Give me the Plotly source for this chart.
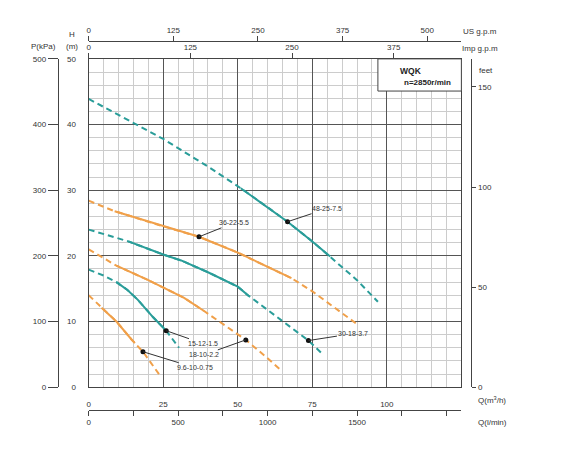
import plotly.graph_objects as go

W, H = 570, 449

# flow in m3/h, head in m; solid part between solid_from and solid_to
curve_names = ['48-25-7.5', '36-22-5.5', '30-18-3.7', '18-10-2.2', '15-12-1.5', '9.6-10-0.75']
curve_colors = ['teal', 'orange', 'teal', 'orange', 'teal', 'orange']

q_48 = [0, 15, 25, 40, 51, 60, 66.7, 75, 81, 90, 97]
h_48 = [43.9, 40.2, 37.8, 33.6, 30.3, 27.4, 25.2, 22.2, 19.9, 16.3, 13.0]

q_36 = [0, 8.7, 25, 37, 50, 60, 68, 75, 85, 89.7]
h_36 = [28.4, 26.8, 24.5, 22.9, 20.5, 18.3, 16.6, 14.6, 11.3, 9.7]

q_30 = [0, 13.3, 25, 31, 40, 50, 53.7, 60, 67, 73.7, 78.3]
h_30 = [24.0, 22.2, 20.2, 19.3, 17.5, 15.3, 13.9, 11.8, 9.4, 7.1, 5.1]

q_18 = [0, 9.3, 20, 32, 38.7, 45, 52.7, 60, 64.7]
h_18 = [21.0, 18.5, 16.3, 13.6, 11.6, 9.6, 7.2, 4.4, 2.5]

q_15 = [0, 5, 9.3, 13, 16.5, 21.7, 26, 30.3]
h_15 = [17.9, 17.0, 16.0, 14.8, 13.3, 10.6, 8.6, 6.0]

q_96 = [0, 4.3, 9.3, 14.3, 18.2, 23.7]
h_96 = [14.0, 12.1, 10.0, 7.3, 5.4, 1.9]

curve_q = [q_48, q_36, q_30, q_18, q_15, q_96]
curve_h = [h_48, h_36, h_30, h_18, h_15, h_96]
solid_from = [51, 8.7, 13.3, 9.3, 9.3, 4.3]
solid_to = [81, 68, 53.7, 38.7, 26, 15.5]

# label dot on each curve (Q, H) and text offset in px
label_q = [66.7, 37, 73.7, 52.7, 26, 18.2]
label_h = [25.2, 22.9, 7.1, 7.2, 8.6, 5.4]
label_ax = [39, 35, 45, -42, 37, 52]
label_ay = [-13, -14, -7, 15, 13, 16]

q_ticks = [0, 25, 50, 75, 100]
h_ticks = [0, 10, 20, 30, 40, 50]
p_ticks = [0, 100, 200, 300, 400, 500]
us_ticks = [0, 125, 250, 375, 500]
imp_ticks = [0, 125, 250, 375]
lmin_ticks = [0, 500, 1000, 1500]
feet_ticks = [0, 50, 100, 150]

Q_MAX, H_MAX = 125, 50

COLORS = {'teal': '#2a9d99', 'orange': '#f0a04a'}
FONT = 'Liberation Sans, Arial, sans-serif'
AX = '#444444'


def px(x):
    return x / W


def py(y):
    return 1 - y / H


def interp(qs, hs, q):
    for i in range(len(qs) - 1):
        if qs[i] <= q <= qs[i + 1]:
            t = (q - qs[i]) / (qs[i + 1] - qs[i])
            return hs[i] + t * (hs[i + 1] - hs[i])
    return hs[-1]


fig = go.Figure()

for name, col, qs, hs, a, b in zip(curve_names, curve_colors, curve_q, curve_h, solid_from, solid_to):
    c = COLORS[col]
    fig.add_trace(go.Scatter(x=qs, y=hs, mode='lines', line=dict(color=c, width=2, dash='6px,4px'),
                             hoverinfo='skip', showlegend=False))
    sq = [a] + [q for q in qs if a < q < b] + [b]
    sh = [interp(qs, hs, q) for q in sq]
    fig.add_trace(go.Scatter(x=sq, y=sh, mode='lines', line=dict(color=c, width=2),
                             name=name, showlegend=False))

fig.add_trace(go.Scatter(x=label_q, y=label_h, mode='markers',
                         marker=dict(color='#111111', size=5), hoverinfo='skip', showlegend=False))

# empty traces so the extra unit axes get drawn
for xa, ya in [('x2', 'y'), ('x3', 'y'), ('x4', 'y'), ('x', 'y2'), ('x', 'y3')]:
    fig.add_trace(go.Scatter(x=[None], y=[None], xaxis=xa, yaxis=ya, mode='lines',
                             hoverinfo='skip', showlegend=False))

for name, q, h, ax, ay in zip(curve_names, label_q, label_h, label_ax, label_ay):
    fig.add_annotation(x=q, y=h, xref='x', yref='y', text=name, showarrow=True,
                       ax=ax, ay=ay, arrowhead=0, arrowwidth=1, arrowcolor='#333333',
                       font=dict(family=FONT, size=7, color='#333333'))

# model box
fig.add_shape(type='rect', xref='x', yref='y', x0=97, x1=Q_MAX, y0=45.1, y1=H_MAX,
              fillcolor='white', line=dict(color=AX, width=1), layer='above')
fig.add_annotation(x=px(397), y=py(68), xref='paper', yref='paper', text='<b>WQK</b>',
                   showarrow=False, xanchor='left', yanchor='middle',
                   font=dict(family=FONT, size=8.5, color='#222222'))
fig.add_annotation(x=px(401), y=py(80), xref='paper', yref='paper', text='<b>n=2850r/min</b>',
                   showarrow=False, xanchor='left', yanchor='middle',
                   font=dict(family=FONT, size=8, color='#222222'))

# axis captions
captions = [
    ('P(kPa)', 42, 43, 'center'),
    ('H', 70, 31, 'center'),
    ('(m)', 70, 43, 'center'),
    ('US g.p.m', 461, 28, 'left'),
    ('Imp g.p.m', 460, 45, 'left'),
    ('feet', 477, 68, 'left'),
    ('Q(m<sup>3</sup>/h)', 476, 404, 'left'),
    ('Q(l/min)', 476, 427, 'left'),
]
for txt, x, y, anc in captions:
    fig.add_annotation(x=px(x), y=py(y), xref='paper', yref='paper', text=txt, showarrow=False,
                       xanchor=anc, yanchor='middle', font=dict(family=FONT, size=8, color='#333333'))

xdom = [px(87), px(461)]
ydom = [py(391), py(56)]
tickfont = dict(family=FONT, size=8, color='#333333')

fig.update_layout(
    width=W, height=H,
    margin=dict(l=0, r=0, t=0, b=0),
    paper_bgcolor='white', plot_bgcolor='white',
    font=dict(family=FONT, size=8, color='#333333'),
    xaxis=dict(domain=xdom, range=[0, Q_MAX], tickmode='array', tickvals=q_ticks,
               showgrid=True, gridcolor='#555555', gridwidth=1.2, zeroline=False,
               minor=dict(dtick=5, tick0=0, showgrid=True, gridcolor='#cccccc', gridwidth=1),
               showline=True, mirror=True, linecolor=AX, linewidth=1.2,
               ticks='', ticklabelstandoff=9, tickfont=tickfont, anchor='y'),
    yaxis=dict(domain=ydom, range=[0, H_MAX], tickmode='array', tickvals=h_ticks,
               showgrid=True, gridcolor='#555555', gridwidth=1.2, zeroline=False,
               minor=dict(dtick=2, tick0=0, showgrid=True, gridcolor='#cccccc', gridwidth=1),
               showline=True, mirror=True, linecolor=AX, linewidth=1.2,
               ticks='', ticklabelstandoff=10, tickfont=tickfont, anchor='x'),
    xaxis2=dict(overlaying='x', side='top', anchor='free', position=py(38), domain=xdom,
                range=[0, Q_MAX * 4.4029], tickmode='array', tickvals=us_ticks,
                showgrid=False, zeroline=False, showline=True, linecolor=AX, linewidth=1.2,
                ticks='outside', ticklen=5, tickcolor=AX, tickfont=tickfont),
    xaxis3=dict(overlaying='x', side='top', anchor='y', domain=xdom,
                range=[0, Q_MAX * 3.6662], tickmode='array', tickvals=imp_ticks,
                showgrid=False, zeroline=False, showline=False,
                ticks='outside', ticklen=5, tickcolor=AX, tickfont=tickfont),
    xaxis4=dict(overlaying='x', side='bottom', anchor='free', position=py(414), domain=xdom,
                range=[0, Q_MAX * 1000 / 60], tickmode='array', tickvals=lmin_ticks,
                minor=dict(dtick=250, tick0=0, ticks='outside', ticklen=5, tickcolor=AX, showgrid=False),
                showgrid=False, zeroline=False, showline=True, linecolor=AX, linewidth=1.2,
                ticks='outside', ticklen=5, tickcolor=AX, tickfont=tickfont),
    yaxis2=dict(overlaying='y', side='left', anchor='free', position=px(56), domain=ydom,
                range=[0, 500], tickmode='array', tickvals=p_ticks,
                showgrid=False, zeroline=False, showline=True, linecolor=AX, linewidth=1.2,
                ticks='outside', ticklen=10, tickcolor=AX, tickfont=tickfont),
    yaxis3=dict(overlaying='y', side='right', anchor='free', position=px(471), domain=ydom,
                range=[0, H_MAX / 0.3048], tickmode='array', tickvals=feet_ticks,
                showgrid=False, zeroline=False, showline=True, linecolor=AX, linewidth=1.2,
                ticks='outside', ticklen=4, tickcolor=AX, tickfont=tickfont),
)

fig.write_html("out.html", config={'displayModeBar': False},
               post_script="document.body.style.margin='0px';")
